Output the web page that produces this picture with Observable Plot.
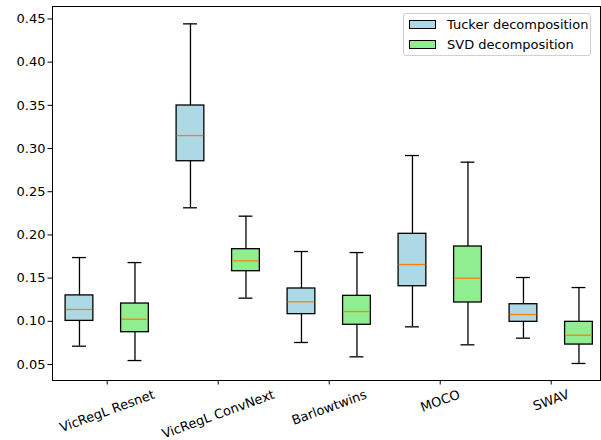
<!DOCTYPE html>
<html>
<head>
<meta charset="utf-8">
<script src="https://cdn.jsdelivr.net/npm/d3@7"></script>
<script src="https://cdn.jsdelivr.net/npm/@observablehq/plot@0.6"></script>
<style>
  body { margin: 0; background: white; }
  #wrap { position: relative; width: 601px; height: 440px; font-family: "DejaVu Sans", sans-serif; }
  .legend { position: absolute; left: 403px; top: 13px; width: 188px; height: 43px; border: 1px solid #d0d0d0; border-radius: 3px; background: rgba(255,255,255,0.8); box-sizing: border-box; }
  .patch { position: absolute; width: 27px; height: 9px; border: 1px solid black; box-sizing: border-box; }
  .ltext { position: absolute; font-size: 13px; line-height: 13px; color: black; white-space: nowrap; }
</style>
</head>
<body>
<div id="wrap"></div>
<script>
// ---- data ----
const categories = ["VicRegL Resnet", "VicRegL ConvNext", "Barlowtwins", "MOCO", "SWAV"];
const seriesNames = ["Tucker decomposition", "SVD decomposition"];

const tuckerLow    = [0.0712, 0.2314, 0.0755, 0.0936, 0.0805];
const tuckerQ1     = [0.1005, 0.2853, 0.1083, 0.1406, 0.0994];
const tuckerMedian = [0.1137, 0.3150, 0.1226, 0.1657, 0.1079];
const tuckerQ3     = [0.1300, 0.3498, 0.1380, 0.2013, 0.1198];
const tuckerHigh   = [0.1738, 0.4443, 0.1808, 0.2919, 0.1507];

const svdLow    = [0.0546, 0.1268, 0.0589, 0.0728, 0.0512];
const svdQ1     = [0.0874, 0.1580, 0.0960, 0.1218, 0.0731];
const svdMedian = [0.1024, 0.1700, 0.1113, 0.1499, 0.0839];
const svdQ3     = [0.1206, 0.1835, 0.1295, 0.1866, 0.0994];
const svdHigh   = [0.1680, 0.2217, 0.1796, 0.2842, 0.1391];

const yTicks = [0.05, 0.10, 0.15, 0.20, 0.25, 0.30, 0.35, 0.40, 0.45];

// ---- build ----
const colors = ["#add8e6", "#90ee90"];
const offsets = [-0.25, 0.25];
const boxHalf = 0.125, capHalf = 0.0625;
const lw = 1.3;

function rowsFor(s, low, q1, med, q3, high) {
  return categories.map((c, i) => ({cat: c, i, pos: i + offsets[s], low: low[i], q1: q1[i], med: med[i], q3: q3[i], high: high[i]}));
}
const series = [
  rowsFor(0, tuckerLow, tuckerQ1, tuckerMedian, tuckerQ3, tuckerHigh),
  rowsFor(1, svdLow, svdQ1, svdMedian, svdQ3, svdHigh)
];

const fontSpec = '13px "DejaVu Sans"';
const ctx = document.createElement("canvas").getContext("2d");
ctx.font = fontSpec;
const rad = 20 * Math.PI / 180;
const lineH = 14;

const marks = [];
series.forEach((rows, s) => {
  marks.push(Plot.ruleX(rows, {x: "pos", y1: "low", y2: "high", stroke: "black", strokeWidth: lw}));
  marks.push(Plot.ruleY(rows, {y: "low", x1: d => d.pos - capHalf, x2: d => d.pos + capHalf, stroke: "black", strokeWidth: lw}));
  marks.push(Plot.ruleY(rows, {y: "high", x1: d => d.pos - capHalf, x2: d => d.pos + capHalf, stroke: "black", strokeWidth: lw}));
  marks.push(Plot.rect(rows, {x1: d => d.pos - boxHalf, x2: d => d.pos + boxHalf, y1: "q1", y2: "q3", fill: colors[s], stroke: "black", strokeWidth: lw}));
  marks.push(Plot.ruleY(rows, {y: "med", x1: d => d.pos - boxHalf + 0.005, x2: d => d.pos + boxHalf - 0.005, stroke: "#ff7f0e", strokeWidth: lw}));
});

categories.forEach((c, i) => {
  const w = ctx.measureText(c).width;
  const half = (w / 2) * Math.sin(rad) + (lineH / 2) * Math.cos(rad);
  marks.push(Plot.text([i], {x: d => d, text: d => categories[d], frameAnchor: "bottom", rotate: -20,
    textAnchor: "middle", lineAnchor: "middle", dy: 7 + half, fill: "black", fontSize: 13}));
});

marks.push(Plot.axisY({ticks: yTicks, tickFormat: d3.format(".2f"), tickSize: 4.5, tickPadding: 2.5, label: null, fontSize: 13}));
marks.push(Plot.axisX({ticks: categories.map((c, i) => i), tickFormat: () => "", tickSize: 4.5, label: null}));
marks.push(Plot.frame({stroke: "black", strokeWidth: 1}));

const chart = Plot.plot({
  width: 601, height: 440,
  marginLeft: 52, marginRight: 1, marginTop: 6, marginBottom: 60,
  style: {fontFamily: "DejaVu Sans", fontSize: "13px", background: "white", color: "black"},
  x: {type: "linear", domain: [-0.493, 4.444], axis: null},
  y: {domain: [0.0315, 0.4644], axis: null},
  marks
});
const wrap = document.getElementById("wrap");
wrap.appendChild(chart);

// legend
const legend = document.createElement("div");
legend.className = "legend";
seriesNames.forEach((name, s) => {
  const p = document.createElement("div");
  p.className = "patch";
  p.style.background = colors[s];
  p.style.left = "5px";
  p.style.top = (6 + s * 19.5) + "px";
  legend.appendChild(p);
  const t = document.createElement("div");
  t.className = "ltext";
  t.textContent = name;
  t.style.left = "43px";
  t.style.top = (4 + s * 19.5) + "px";
  legend.appendChild(t);
});
wrap.appendChild(legend);
</script>
</body>
</html>
